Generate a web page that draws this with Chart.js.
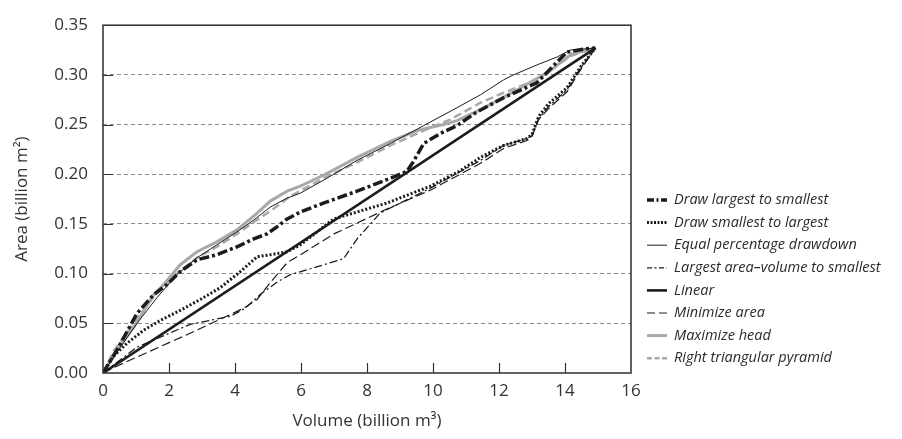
<!DOCTYPE html>
<html>
<head>
<meta charset="utf-8">
<title>Area and volume</title>
<script src="https://cdn.jsdelivr.net/npm/chart.js@4/dist/chart.umd.min.js"></script>
<style>
  html, body { margin: 0; padding: 0; background: #fff; }
  #wrap { position: relative; width: 902px; height: 439px; }
</style>
</head>
<body>
<div id="wrap"><canvas id="chart" width="902" height="439"></canvas></div>
<script>
// Each series is a list of [volume, area] points (billion m3, billion m2).
const drawLargest = [
  [0, 0], [0.42, 0.023], [1.03, 0.060], [1.54, 0.079], [1.94, 0.089], [2.34, 0.102],
  [2.85, 0.114], [3.45, 0.119], [4.06, 0.127], [4.57, 0.135], [4.97, 0.140], [5.27, 0.147],
  [5.58, 0.155], [5.98, 0.162], [6.68, 0.171], [7.70, 0.183], [8.71, 0.196], [9.21, 0.203],
  [9.41, 0.213], [9.72, 0.231], [10.22, 0.241], [10.73, 0.249], [11.30, 0.262], [12.14, 0.277],
  [13.15, 0.292], [13.76, 0.313], [14.06, 0.323], [14.57, 0.326], [14.92, 0.327]
];
const drawSmallest = [
  [0, 0], [0.32, 0.017], [0.73, 0.030], [1.23, 0.043], [1.74, 0.053], [2.34, 0.063],
  [2.95, 0.074], [3.56, 0.086], [4.16, 0.102], [4.67, 0.117], [5.07, 0.119], [5.58, 0.122],
  [5.98, 0.129], [6.99, 0.155], [8.60, 0.171], [9.92, 0.188], [10.80, 0.203], [11.44, 0.217],
  [12.14, 0.229], [12.85, 0.236], [13.00, 0.240], [13.20, 0.258], [13.50, 0.271], [14.06, 0.287],
  [14.47, 0.308], [14.92, 0.327]
];
const equalPercentage = [
  [0, 0], [0.53, 0.026], [1.03, 0.050], [1.64, 0.076], [2.24, 0.099], [2.85, 0.116],
  [3.45, 0.129], [4.06, 0.142], [4.57, 0.154], [5.07, 0.167], [5.58, 0.176], [5.98, 0.181],
  [6.68, 0.194], [7.70, 0.214], [8.71, 0.231], [9.72, 0.249], [10.73, 0.267], [11.44, 0.280],
  [12.14, 0.295], [12.44, 0.300], [13.15, 0.310], [13.76, 0.318], [14.16, 0.325], [14.92, 0.327]
];
const largestAreaVolume = [
  [0, 0], [1.03, 0.026], [2.64, 0.049], [3.86, 0.057], [4.30, 0.065], [4.80, 0.080],
  [5.30, 0.092], [5.68, 0.099], [6.50, 0.107], [7.29, 0.115], [7.70, 0.135], [8.40, 0.161],
  [9.92, 0.186], [11.44, 0.214], [12.14, 0.229], [12.85, 0.236], [13.00, 0.239], [13.20, 0.256],
  [13.50, 0.268], [14.06, 0.285], [14.47, 0.307], [14.92, 0.327]
];
const linear = [[0, 0], [14.92, 0.327]];
const minimizeArea = [
  [0, 0], [0.62, 0.010], [2.64, 0.040], [4.06, 0.062], [4.30, 0.066], [4.67, 0.074],
  [5.07, 0.091], [5.58, 0.111], [5.98, 0.119], [7.00, 0.140], [8.60, 0.165], [9.92, 0.184],
  [11.44, 0.211], [12.14, 0.226], [12.85, 0.234], [13.00, 0.238], [13.20, 0.255], [13.50, 0.266],
  [14.06, 0.283], [14.47, 0.305], [14.92, 0.327]
];
const maximizeHead = [
  [0, 0], [0.42, 0.023], [0.93, 0.046], [1.23, 0.062], [1.54, 0.079], [1.84, 0.089],
  [2.34, 0.109], [2.85, 0.122], [3.45, 0.132], [4.06, 0.144], [4.57, 0.158], [5.07, 0.173],
  [5.58, 0.183], [5.98, 0.188], [6.68, 0.199], [7.70, 0.217], [8.71, 0.233], [9.52, 0.244],
  [10.32, 0.250], [10.73, 0.254], [11.50, 0.266], [12.50, 0.284], [13.50, 0.303], [14.20, 0.321],
  [14.92, 0.327]
];
const rightPyramid = [
  [0, 0], [0.32, 0.022], [0.93, 0.050], [1.54, 0.077], [2.24, 0.100], [2.85, 0.116],
  [3.45, 0.127], [4.06, 0.140], [4.57, 0.152], [5.07, 0.163], [5.68, 0.178], [6.68, 0.196],
  [7.70, 0.212], [8.71, 0.229], [9.72, 0.244], [10.52, 0.255], [11.44, 0.272], [12.14, 0.282],
  [13.15, 0.295], [14.16, 0.319], [14.92, 0.327]
];

const labels = [
  'Draw largest to smallest',
  'Draw smallest to largest',
  'Equal percentage drawdown',
  'Largest area\u2013volume to smallest',
  'Linear',
  'Minimize area',
  'Maximize head',
  'Right triangular pyramid'
];

const NEGRO = '#1c1c1c';
const GRIS = '#a9a9a9';
const FONT = "'Open Sans', 'Noto Sans', sans-serif";

const toXY = (pts) => pts.map(([x, y]) => ({ x, y }));

function serie(label, pts, color, width, dash, legendDash) {
  return {
    label,
    data: toXY(pts),
    borderColor: color,
    borderWidth: width,
    borderDash: dash,
    legendDash: legendDash || dash,
    pointRadius: 0,
    tension: 0,
    fill: false,
  };
}

// Ticks pointing into the plot plus the closed frame around it.
const marcoPlugin = {
  id: 'marco',
  afterDatasetsDraw(chart) {
    const { ctx, chartArea: a, scales } = chart;
    ctx.save();
    ctx.strokeStyle = '#333';
    ctx.lineWidth = 1.2;
    ctx.setLineDash([]);
    ctx.beginPath();
    scales.x.ticks.forEach((t) => {
      if (t.value <= 0 || t.value >= 16) return;
      const px = Math.round(scales.x.getPixelForValue(t.value)) + 0.5;
      ctx.moveTo(px, a.bottom);
      ctx.lineTo(px, a.bottom - 10);
    });
    scales.y.ticks.forEach((t) => {
      if (t.value <= 0.001 || t.value >= 0.349) return;
      const py = Math.round(scales.y.getPixelForValue(t.value)) + 0.5;
      ctx.moveTo(a.left, py);
      ctx.lineTo(a.left + 10, py);
    });
    ctx.stroke();
    ctx.lineWidth = 1.6;
    ctx.strokeStyle = '#3a3a3a';
    ctx.strokeRect(a.left, a.top, a.right - a.left, a.bottom - a.top);
    ctx.restore();
  },
};

// Legend on the right, each sample drawn with the dataset's own stroke.
const leyendaPlugin = {
  id: 'leyenda',
  afterDraw(chart, args, opts) {
    const { ctx } = chart;
    ctx.save();
    ctx.font = opts.font;
    ctx.fillStyle = '#2a2a2a';
    ctx.textBaseline = 'middle';
    chart.data.datasets.forEach((ds, i) => {
      const y = opts.top + i * opts.step;
      ctx.beginPath();
      ctx.strokeStyle = ds.borderColor;
      ctx.lineWidth = ds.borderWidth;
      ctx.setLineDash(ds.legendDash || []);
      ctx.moveTo(opts.x, y);
      ctx.lineTo(opts.x + opts.sample, y);
      ctx.stroke();
      ctx.setLineDash([]);
      ctx.fillText(ds.label, opts.x + opts.sample + opts.gap, y);
    });
    ctx.restore();
  },
};

new Chart(document.getElementById('chart'), {
  type: 'line',
  data: {
    datasets: [
      serie(labels[0], drawLargest, NEGRO, 3.5, [10, 3, 3, 3], [7, 2.5, 2, 2.5]),
      serie(labels[1], drawSmallest, NEGRO, 3, [2, 2], [2, 1.5]),
      serie(labels[2], equalPercentage, NEGRO, 1, []),
      serie(labels[3], largestAreaVolume, NEGRO, 1.3, [8, 3, 2, 3], [5, 2.5, 2, 2.5]),
      serie(labels[4], linear, NEGRO, 2.6, []),
      serie(labels[5], minimizeArea, NEGRO, 1.2, [9, 4], [8, 4]),
      serie(labels[6], maximizeHead, GRIS, 3, []),
      serie(labels[7], rightPyramid, GRIS, 2.5, [8, 4], [5, 2.5]),
    ],
  },
  options: {
    responsive: false,
    animation: false,
    events: [],
    layout: { padding: { left: 0, top: 19.5, right: 271, bottom: 0 } },
    plugins: {
      legend: { display: false },
      tooltip: { enabled: false },
      leyenda: {
        x: 647,
        top: 200,
        step: 22.6,
        sample: 20,
        gap: 7,
        font: `italic 400 14.5px ${FONT}`,
      },
    },
    scales: {
      x: {
        type: 'linear',
        min: 0,
        max: 16,
        afterFit: (scale) => { scale.height = 66; },
        ticks: { stepSize: 2, padding: 8, color: '#333', font: { family: FONT, size: 17 } },
        grid: { display: false, drawTicks: false },
        border: { display: false },
        title: {
          display: true,
          text: 'Volume (billion m\u00b3)',
          color: '#333',
          font: { family: FONT, size: 17 },
          padding: { top: 0, bottom: 8 },
        },
      },
      y: {
        min: 0,
        max: 0.35,
        afterFit: (scale) => { scale.width = 103; },
        ticks: {
          stepSize: 0.05,
          padding: 15,
          color: '#333',
          font: { family: FONT, size: 17 },
          callback: (v) => v.toFixed(2),
        },
        grid: {
          drawTicks: false,
          lineWidth: 1,
          color: (c) => (c.tick.value < 0.001 || c.tick.value > 0.349 ? 'rgba(0,0,0,0)' : '#8c8c8c'),
        },
        border: { display: false, dash: [4, 3] },
        title: {
          display: true,
          text: 'Area (billion m\u00b2)',
          color: '#333',
          font: { family: FONT, size: 17 },
          padding: { top: 12, bottom: 0 },
        },
      },
    },
  },
  plugins: [marcoPlugin, leyendaPlugin],
});
</script>
</body>
</html>
